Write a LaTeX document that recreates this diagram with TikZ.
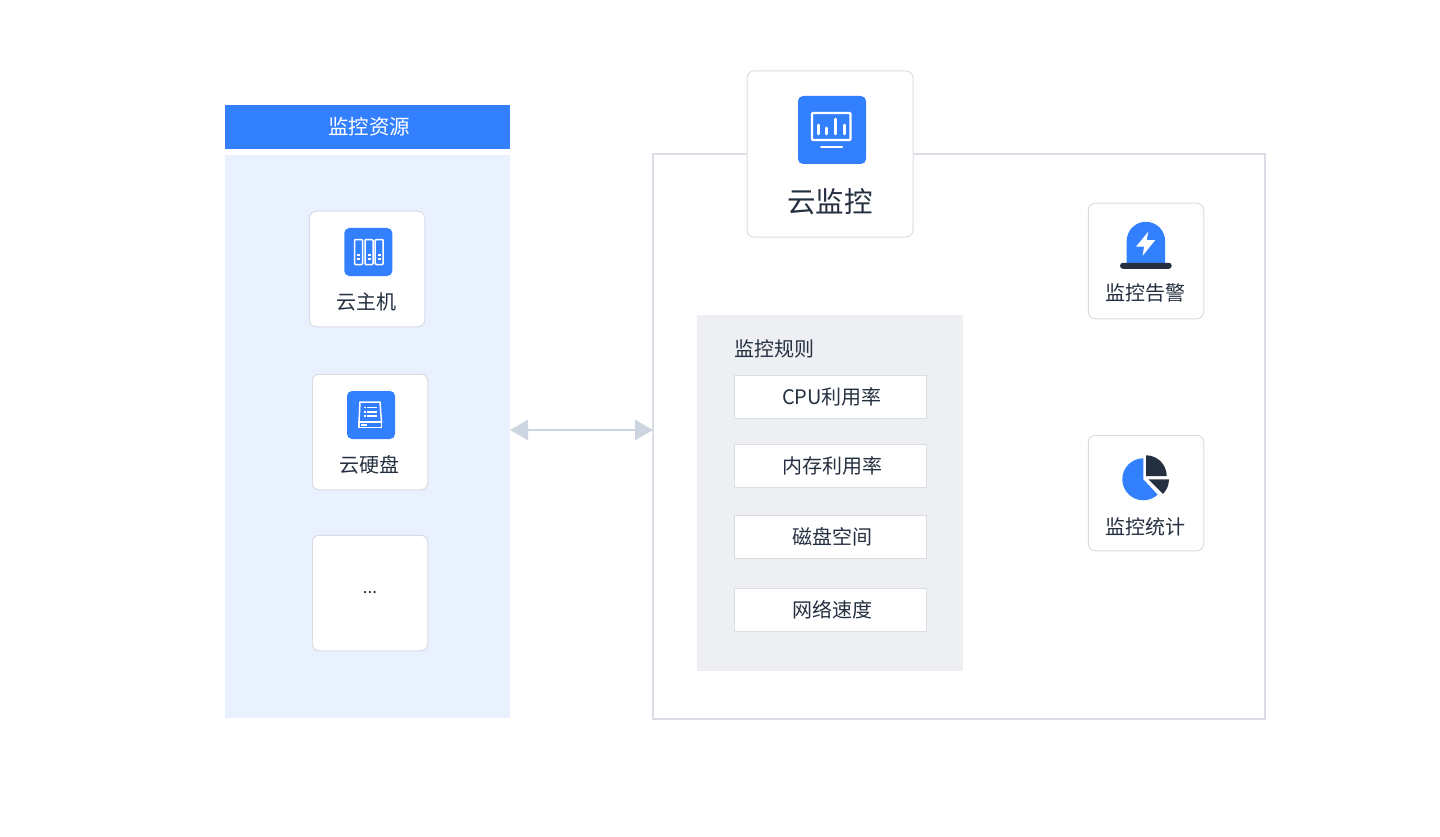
\documentclass[tikz,border=0pt]{standalone}
\usepackage{fontspec}
\usepackage{tikz}
\usetikzlibrary{arrows.meta}
\setmainfont{Noto Sans CJK SC}
\definecolor{bluemain}{HTML}{3380FF}
\definecolor{bluepale}{HTML}{E9F1FE}
\definecolor{greypale}{HTML}{EDEFF3}
\definecolor{edgegrey}{HTML}{D9DDE4}
\definecolor{arrowgrey}{HTML}{CDD5E0}
\definecolor{inkdark}{HTML}{242F40}
\tikzset{
  block/.style={inner sep=0pt,outer sep=0pt,text=inkdark},
  card/.style={block,draw=edgegrey,line width=1pt,fill=white,rounded corners=7pt,minimum width=115.5pt,minimum height=115.5pt},
  rulebox/.style={block,draw=edgegrey,line width=1pt,fill=white,minimum width=192pt,minimum height=43pt,font=\fontsize{20}{24}\selectfont},
  iconbg/.style={block,fill=bluemain,rounded corners=5pt,minimum width=48pt,minimum height=48pt},
  caption/.style={inner sep=0pt,text=inkdark,font=\fontsize{20}{24}\selectfont},
  whiteline/.style={draw=white,line width=1.5pt},
}
\begin{document}
\begin{tikzpicture}[x=1pt,y=-1pt]
  \useasboundingbox (0,0) rectangle (1440,837);

  % left side
  \node[block,fill=bluemain,minimum width=285pt,minimum height=44pt,text=white,font=\fontsize{20.5}{24}\selectfont] (head) at (367.5,127) {\hspace{3pt}监控资源};
  \node[block,fill=bluepale,minimum width=285pt,minimum height=563pt] (res) at (367.5,436.5) {};

  \node[card] (host) at (367,269) {};
  \node[iconbg] (hosticon) at (368.3,252) {};
  \node[caption] (hostname) at (366.7,302) {云主机};
  \foreach \x in {354.5,365,375.2} {
    \draw[whiteline,rounded corners=1pt] (\x,239.5) rectangle (\x+8,264.5);
    \fill[white] (\x+2.5,254) rectangle (\x+5.5,256);
    \fill[white] (\x+2.5,258) rectangle (\x+5.5,260);
  }

  \node[card] (disk) at (370,432) {};
  \node[iconbg] (diskicon) at (371,415) {};
  \node[caption] (diskname) at (369.7,465) {云硬盘};
  \draw[whiteline] (360,402) -- (380,402) -- (381.5,422) -- (359,422) -- cycle;
  \draw[whiteline] (359,422) rectangle (381.5,427.5);
  \foreach \y in {407.5,411.7,416} {
    \fill[white] (364,\y-0.9) rectangle (366,\y+0.9);
    \fill[white] (367,\y-0.9) rectangle (377,\y+0.9);
  }
  \fill[white] (361,424) rectangle (366.5,426);

  \node[card] (more) at (370,593) {};
  \node[inner sep=0pt,text=inkdark,font=\fontsize{17}{20}\selectfont] (morename) at (370,593) {...};

  % right side
  \node[block,draw=edgegrey,line width=1.2pt,minimum width=612pt,minimum height=565pt] (cloud) at (959,436.5) {};

  \node[card,minimum width=166pt,minimum height=166pt] (mon) at (830,154) {};
  \node[iconbg,minimum width=68pt,minimum height=68pt] (monicon) at (832,130) {};
  \node[caption,font=\fontsize{28.5}{34}\selectfont] (monname) at (830,202) {云监控};
  \draw[whiteline,line width=2.2pt,rounded corners=1pt] (812,113) rectangle (850.5,140);
  \draw[white,line width=2.6pt,line cap=round]
    (818.7,125) -- (818.7,134) (826.7,128) -- (826.7,134)
    (835.7,119) -- (835.7,134) (844.3,125) -- (844.3,134);
  \draw[white,line width=2pt,line cap=round] (821,146.7) -- (842,146.7);

  \node[block,fill=greypale,minimum width=266pt,minimum height=356pt] (rules) at (830,493) {};
  \node[caption,anchor=west] (rulename) at (734.5,349) {监控规则};
  \node[rulebox] (cpu) at (830,396.5) {\hspace{4pt}CPU利用率};
  \node[rulebox] (mem) at (830,465.5) {\hspace{4pt}内存利用率};
  \node[rulebox] (space) at (830,536.5) {\hspace{4pt}磁盘空间};
  \node[rulebox] (net) at (830,609.5) {\hspace{4pt}网络速度};

  \node[card] (alarm) at (1146,261) {};
  \node[caption] (alarmname) at (1145.7,293) {监控告警};
  \fill[bluemain] (1126.7,264) -- (1126.7,241) arc[start angle=180,end angle=0,radius=19.2pt] -- (1165.1,264) -- cycle;
  \fill[inkdark,rounded corners=2.9pt] (1120,262.8) rectangle (1171.7,268.8);
  \fill[white] (1148.3,231.7) -- (1136,246.7) -- (1144,246.7) -- (1142.7,255.7) -- (1155.3,240) -- (1146.7,240) -- cycle;

  \node[card] (stat) at (1146,493) {};
  \node[caption] (statname) at (1145.7,527) {监控统计};
  \fill[bluemain] (1143.3,479.3) -- (1143.3,458.3) arc[start angle=90,end angle=313,radius=21pt] -- cycle;
  \fill[inkdark] (1146,476) -- (1146,455.3) arc[start angle=90,end angle=0,radius=20.7pt] -- cycle;
  \fill[inkdark] (1148.3,479.3) -- (1169,479.3) arc[start angle=0,end angle=-45,radius=20.7pt] -- cycle;

  % connector
  \draw[{Triangle[length=18pt,width=20pt]}-{Triangle[length=18pt,width=20pt]},arrowgrey,line width=2.8pt]
    ([yshift=6.5pt]res.east) -- ([yshift=6.5pt]cloud.west);
\end{tikzpicture}
\end{document}
